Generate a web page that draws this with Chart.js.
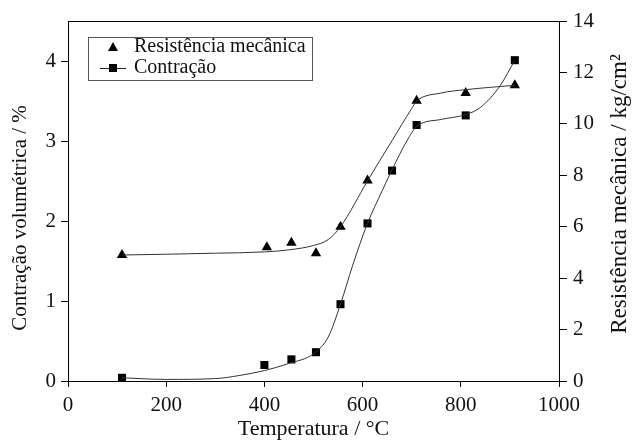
<!DOCTYPE html>
<html>
<head>
<meta charset="utf-8">
<script src="https://cdn.jsdelivr.net/npm/chart.js@4"></script>
<style>
  body { margin: 0; background: #fff; }
</style>
</head>
<body>
<canvas id="myChart" width="632" height="442"></canvas>
<script>
// measured points
const tempRes = [110, 405, 455, 505, 555, 610, 710, 810, 910];
const resistencia = [4.9, 5.2, 5.38, 4.97, 6.0, 7.8, 10.9, 11.2, 11.5];
const tempCon = [110, 400, 455, 505, 555, 610, 660, 710, 810, 910];
const contracao = [0.04, 0.2, 0.27, 0.36, 0.96, 1.97, 2.63, 3.2, 3.32, 4.01];

// fitted curves
const fitResX = [110, 200, 300, 400, 450, 500, 530, 555, 610, 660, 700, 710, 760, 810, 860, 910];
const fitResY = [4.9, 4.93, 4.97, 5.02, 5.1, 5.27, 5.5, 6.0, 7.78, 9.35, 10.6, 10.88, 11.2, 11.33, 11.42, 11.5];
const fitConX = [110, 200, 300, 350, 400, 450, 500, 530, 555, 580, 610, 640, 660, 690, 710, 760, 810, 840, 880, 910];
const fitConY = [0.04, 0.02, 0.03, 0.07, 0.13, 0.22, 0.34, 0.55, 0.96, 1.45, 1.97, 2.38, 2.64, 3.0, 3.18, 3.27, 3.33, 3.42, 3.69, 4.01];

const xTicks = [0, 200, 400, 600, 800, 1000];
const serif = "'Liberation Serif', 'DejaVu Serif', serif";

function pts(xs, ys) {
  return xs.map((x, i) => ({ x: x, y: ys[i] }));
}

function vText(ctx, txt, x, y, size) {
  ctx.save();
  ctx.translate(x, y);
  ctx.rotate(-Math.PI / 2);
  ctx.font = size + 'px ' + serif;
  ctx.textAlign = 'center';
  ctx.textBaseline = 'middle';
  ctx.fillText(txt, 0, 0);
  ctx.restore();
}

const frame = {
  id: 'frame',
  afterDraw(chart) {
    const ctx = chart.ctx;
    const a = chart.chartArea;
    ctx.save();
    // top border
    ctx.strokeStyle = '#000';
    ctx.lineWidth = 1;
    ctx.beginPath();
    ctx.moveTo(a.left, a.top + 0.5);
    ctx.lineTo(a.right, a.top + 0.5);
    ctx.stroke();

    // legend box
    ctx.strokeStyle = '#555';
    ctx.strokeRect(88.5, 37.5, 224, 43);
    ctx.fillStyle = '#000';
    ctx.beginPath();
    ctx.moveTo(113, 42);
    ctx.lineTo(118, 51);
    ctx.lineTo(108, 51);
    ctx.closePath();
    ctx.fill();
    ctx.strokeStyle = '#222';
    ctx.beginPath();
    ctx.moveTo(100, 68.5);
    ctx.lineTo(126, 68.5);
    ctx.stroke();
    ctx.fillRect(109, 64, 8, 8);

    ctx.font = '20px ' + serif;
    ctx.textBaseline = 'middle';
    ctx.fillStyle = '#111';
    ctx.fillText('Resistência mecânica', 134, 47);
    ctx.fillText('Contração', 134, 68);

    // axis titles
    vText(ctx, 'Contração volumétrica / %', 20, 218, 21);
    vText(ctx, 'Resistência mecânica / kg/cm²', 620, 194, 23);
    ctx.restore();
  }
};

new Chart('myChart', {
  data: {
    datasets: [
      {
        type: 'line',
        label: 'fit resistencia',
        data: pts(fitResX, fitResY),
        yAxisID: 'y1',
        borderColor: '#333',
        borderWidth: 1,
        pointRadius: 0,
        cubicInterpolationMode: 'monotone',
        fill: false
      },
      {
        type: 'line',
        label: 'fit contracao',
        data: pts(fitConX, fitConY),
        yAxisID: 'y',
        borderColor: '#333',
        borderWidth: 1,
        pointRadius: 0,
        cubicInterpolationMode: 'monotone',
        fill: false
      },
      {
        type: 'line',
        label: 'Resistência mecânica',
        data: pts(tempRes, resistencia),
        yAxisID: 'y1',
        showLine: false,
        pointStyle: 'triangle',
        pointRadius: 6,
        pointBackgroundColor: '#000',
        pointBorderColor: '#000',
        pointBorderWidth: 0
      },
      {
        type: 'line',
        label: 'Contração',
        data: pts(tempCon, contracao),
        yAxisID: 'y',
        showLine: false,
        pointStyle: 'rect',
        pointRadius: 5.7,
        pointBackgroundColor: '#000',
        pointBorderColor: '#000',
        pointBorderWidth: 0
      }
    ]
  },
  options: {
    responsive: false,
    animation: false,
    layout: { padding: { top: 21, left: 0, right: 0, bottom: 0 } },
    plugins: {
      legend: { display: false },
      tooltip: { enabled: false }
    },
    scales: {
      x: {
        type: 'linear',
        min: 0,
        max: 1000,
        afterBuildTicks: s => { s.ticks = xTicks.map(v => ({ value: v })); },
        afterFit: s => { s.height = 61; },
        grid: { drawOnChartArea: false, color: '#000', tickLength: 6 },
        border: { color: '#000', width: 1 },
        ticks: { color: '#111', font: { family: serif, size: 21 }, padding: 6, maxRotation: 0, callback: v => String(v) },
        title: { display: true, text: 'Temperatura / °C', color: '#111', font: { family: serif, size: 22 }, padding: { top: 0, bottom: 0 } }
      },
      y: {
        type: 'linear',
        position: 'left',
        min: 0,
        max: 4.5,
        afterBuildTicks: s => { s.ticks = s.ticks.filter(t => Number.isInteger(t.value)); },
        afterFit: s => { s.width = 68; },
        grid: { drawOnChartArea: false, color: '#000', tickLength: 7 },
        border: { color: '#000', width: 1 },
        ticks: { stepSize: 1, color: '#111', font: { family: serif, size: 21 }, padding: 5 }
      },
      y1: {
        type: 'linear',
        position: 'right',
        min: 0,
        max: 14,
        afterFit: s => { s.width = 73; },
        grid: { drawOnChartArea: false, color: '#000', tickLength: 8 },
        border: { color: '#000', width: 1 },
        ticks: { stepSize: 2, color: '#111', font: { family: serif, size: 21 }, padding: 6 }
      }
    }
  },
  plugins: [frame]
});
</script>
</body>
</html>
